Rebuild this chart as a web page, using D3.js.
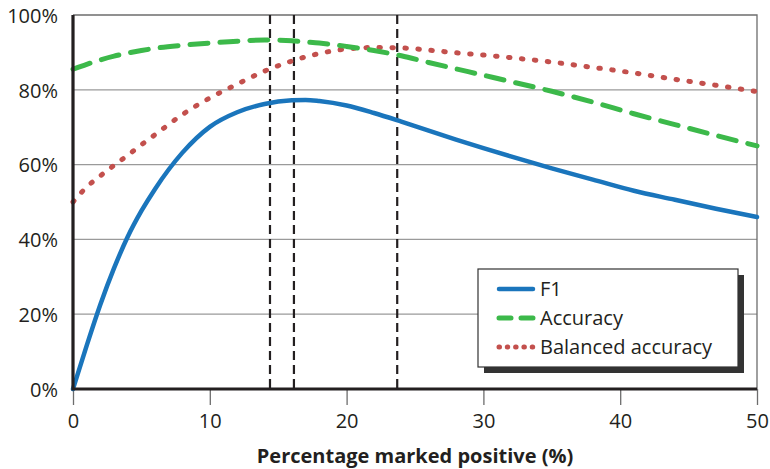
<!DOCTYPE html>
<html>
<head>
<meta charset="utf-8">
<script src="https://cdn.jsdelivr.net/npm/d3@7"></script>
<style>
  body { margin: 0; background: #fff; }
  svg { display: block; font-family: "Open Sans", sans-serif; }
</style>
</head>
<body>
<svg id="chart" width="770" height="469"></svg>
<script>
// values (x = percentage marked positive)
let pct = [0, 1, 2, 3, 4, 5, 6, 8, 10, 12, 14, 16, 17, 18, 20, 22, 24, 26, 28, 30, 32, 35, 38, 41, 44, 47, 50];
let f1 = [0, 11.6, 22.6, 32.3, 40.7, 47.6, 53.5, 63.2, 70.1, 74, 76.2, 77.2, 77.3, 77, 75.8, 73.8, 71.5, 69.1, 66.7, 64.4, 62.2, 59, 56, 53, 50.6, 48.2, 46];
let accuracy = [85.5, 86.8, 88, 89, 89.8, 90.5, 91.1, 91.9, 92.5, 93, 93.3, 93.1, 92.8, 92.5, 91.6, 90.5, 89.1, 87.3, 85.6, 83.9, 82.2, 79.6, 76.7, 73.6, 70.7, 67.8, 65];
let balanced = [50, 54, 57, 59.8, 62.5, 65.3, 68, 73.4, 77.8, 81.5, 85, 87.7, 88.8, 89.7, 90.9, 91.3, 91.2, 90.6, 89.9, 89.3, 88.6, 87.4, 86, 84.5, 82.8, 81.2, 79.5];
let cutoffs = [14.4, 16.15, 23.7];
let xTicks = [0, 10, 20, 30, 40, 50];
let yTicks = [0, 20, 40, 60, 80, 100];
let seriesNames = ['F1', 'Accuracy', 'Balanced accuracy'];

let plotLeft = 73, plotRight = 757, plotTop = 15, plotBottom = 389;
let ink = '#231f20';

let svg = d3.select('#chart');

let x = d3.scaleLinear().domain([0, 50]).range([plotLeft, plotRight]);
let y = d3.scaleLinear().domain([0, 100]).range([plotBottom, plotTop]);

// grid lines
svg.append('g')
  .selectAll('line')
  .data(yTicks.filter(d => d > 0 && d < 100))
  .enter().append('line')
  .attr('x1', plotLeft).attr('x2', plotRight)
  .attr('y1', d => y(d)).attr('y2', d => y(d))
  .attr('stroke', '#9a9a9a').attr('stroke-width', 1.2);

// top + right frame
svg.append('path')
  .attr('d', `M${plotLeft},${y(100)}H${plotRight}V${plotBottom}`)
  .attr('fill', 'none')
  .attr('stroke', '#6d6d6d')
  .attr('stroke-width', 1.3);

// x axis ticks below the axis
let xAxis = d3.axisBottom(x).tickValues(xTicks).tickSize(16).tickPadding(9).tickFormat(d3.format('d'));
let gx = svg.append('g').attr('transform', `translate(0,${plotBottom})`).call(xAxis);
gx.select('.domain').remove();
gx.selectAll('.tick line').attr('stroke', '#6d6d6d').attr('stroke-width', 1.3);
gx.selectAll('.tick text')
  .attr('fill', ink)
  .style('font-size', '20px')
  .style('font-family', '"Open Sans", sans-serif');

// y axis labels
let yAxis = d3.axisLeft(y).tickValues(yTicks).tickSize(0).tickPadding(15).tickFormat(d => d + '%');
let gy = svg.append('g').attr('transform', `translate(${plotLeft},0)`).call(yAxis);
gy.select('.domain').remove();
gy.selectAll('.tick text')
  .attr('fill', ink)
  .attr('dy', '0.36em')
  .style('font-size', '20px')
  .style('font-family', '"Open Sans", sans-serif');

// cutoff dashed lines
svg.append('g')
  .selectAll('line')
  .data(cutoffs)
  .enter().append('line')
  .attr('x1', d => x(d)).attr('x2', d => x(d))
  .attr('y1', plotTop).attr('y2', plotBottom)
  .attr('stroke', ink)
  .attr('stroke-width', 2.2)
  .attr('stroke-dasharray', '9,5');

let styles = [
  { color: '#1a75bc', width: 4.5, dash: null, cap: 'round' },
  { color: '#3cb94a', width: 5, dash: '18,12', cap: 'round' },
  { color: '#c3504d', width: 5, dash: '1.5,11.5', cap: 'round' }
];
let series = [f1, accuracy, balanced];

let line = d3.line()
  .x((d, i) => x(pct[i]))
  .y(d => y(d))
  .curve(d3.curveMonotoneX);

// draw balanced, accuracy, then F1 on top
[2, 1, 0].forEach(i => {
  let s = styles[i];
  svg.append('path')
    .datum(series[i])
    .attr('d', line)
    .attr('fill', 'none')
    .attr('stroke', s.color)
    .attr('stroke-width', s.width)
    .attr('stroke-linecap', s.cap)
    .attr('stroke-dasharray', s.dash);
});

// main axes (thick)
svg.append('path')
  .attr('d', `M${plotLeft},${plotTop}V${plotBottom}H${plotRight}`)
  .attr('fill', 'none')
  .attr('stroke', ink)
  .attr('stroke-width', 3.2)
  .attr('stroke-linejoin', 'miter');

// legend
let lg = svg.append('g').attr('transform', 'translate(478,269)');
lg.append('rect')
  .attr('x', 6).attr('y', 6).attr('width', 260).attr('height', 98)
  .attr('fill', '#333');
lg.append('rect')
  .attr('x', 0).attr('y', 0).attr('width', 260).attr('height', 98)
  .attr('fill', '#fff')
  .attr('stroke', '#333')
  .attr('stroke-width', 1.2);

let items = lg.selectAll('.item')
  .data(seriesNames)
  .enter().append('g')
  .attr('class', 'item')
  .attr('transform', (d, i) => `translate(0,${20 + i * 29})`);

items.append('line')
  .attr('x1', 21)
  .attr('x2', 55)
  .attr('y1', 0).attr('y2', 0)
  .attr('stroke', (d, i) => styles[i].color)
  .attr('stroke-width', (d, i) => styles[i].width)
  .attr('stroke-linecap', 'round')
  .attr('stroke-dasharray', (d, i) => i === 1 ? '12,10' : (i === 2 ? '0.5,7.8' : null));

items.append('text')
  .attr('x', 62)
  .attr('y', 0)
  .attr('dy', '0.35em')
  .attr('fill', ink)
  .style('font-size', '20px')
  .text(d => d);

// axis title
svg.append('text')
  .attr('x', (plotLeft + plotRight) / 2)
  .attr('y', 463)
  .attr('text-anchor', 'middle')
  .attr('fill', ink)
  .style('font-size', '20px')
  .style('font-weight', 'bold')
  .text('Percentage marked positive (%)');
</script>
</body>
</html>
